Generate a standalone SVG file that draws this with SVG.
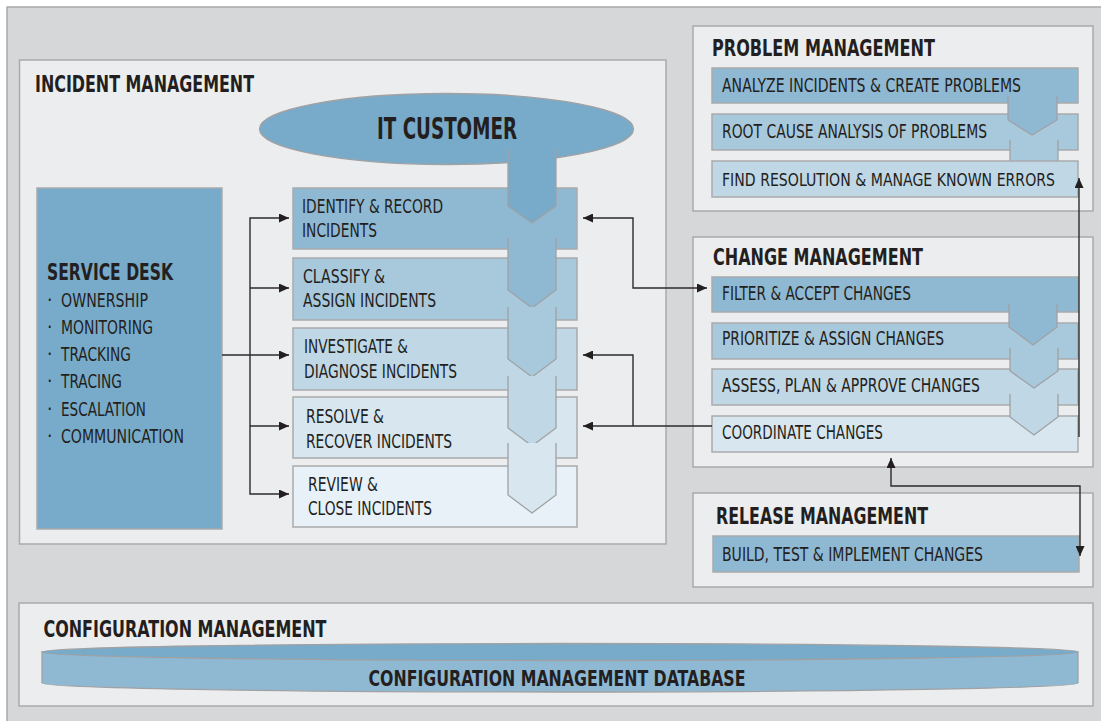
<svg xmlns="http://www.w3.org/2000/svg" width="1101" height="721" viewBox="0 0 1101 721">
<defs>
<style>
text{font-family:'Liberation Sans Narrow','DejaVu Sans Condensed','Liberation Sans',Arial,sans-serif;fill:#231f20}
.t{font-weight:bold;font-size:23px}
.s{font-size:19px}
.panel{fill:#ecedef;stroke:#a9aaac;stroke-width:1.5}
.bx{stroke:#a9aaac;stroke-width:1.5}
.ch{stroke:#a0a1a3;stroke-width:1.3}
.c0{fill:#78abc9}.c1{fill:#8fb8d3}.c2{fill:#a8c8dc}.c3{fill:#c0d7e6}.c4{fill:#d7e6ef}.c5{fill:#e9f1f8}
.ln{fill:none;stroke:#2b2b2b;stroke-width:1.4}
</style>
<marker id="ah" viewBox="0 0 10 9" refX="10" refY="4.5" markerWidth="10" markerHeight="9" markerUnits="userSpaceOnUse" orient="auto-start-reverse">
<path d="M0,0 L10,4.5 L0,9 z" fill="#231f20"/>
</marker>
</defs>
<rect x="7" y="7" width="1100" height="720" fill="#d6d7d9" stroke="#a9aaac" stroke-width="1.5"/>

<g id="incident-management">
<rect class="panel" x="19.5" y="60" width="646.5" height="484"/>
<text class="t" x="35" y="92" textLength="219" lengthAdjust="spacingAndGlyphs">INCIDENT MANAGEMENT</text>
</g>

<g id="it-customer">
<ellipse cx="446.5" cy="129" rx="187" ry="35.5" class="c0" stroke="#a0a1a3" stroke-width="1.3"/>
<text x="447" y="139" font-size="30" font-weight="bold" text-anchor="middle" textLength="140" lengthAdjust="spacingAndGlyphs">IT CUSTOMER</text>
</g>

<g id="service-desk">
<rect class="bx c0" x="37" y="188" width="185" height="341"/>
<text class="t" x="47" y="280" textLength="126" lengthAdjust="spacingAndGlyphs">SERVICE DESK</text>
<g class="s">
<text x="47" y="307">·</text><text x="61" y="307" textLength="87" lengthAdjust="spacingAndGlyphs">OWNERSHIP</text>
<text x="47" y="334">·</text><text x="61" y="334" textLength="92" lengthAdjust="spacingAndGlyphs">MONITORING</text>
<text x="47" y="361">·</text><text x="61" y="361" textLength="70" lengthAdjust="spacingAndGlyphs">TRACKING</text>
<text x="47" y="388">·</text><text x="61" y="388" textLength="61" lengthAdjust="spacingAndGlyphs">TRACING</text>
<text x="47" y="416">·</text><text x="61" y="416" textLength="85" lengthAdjust="spacingAndGlyphs">ESCALATION</text>
<text x="47" y="443">·</text><text x="61" y="443" textLength="123" lengthAdjust="spacingAndGlyphs">COMMUNICATION</text>
</g>
</g>

<g id="identify">
<rect class="bx c1" x="293" y="188" width="284" height="61"/>
<text class="s" x="302" y="213" textLength="141" lengthAdjust="spacingAndGlyphs">IDENTIFY &amp; RECORD</text>
<text class="s" x="302" y="237" textLength="75" lengthAdjust="spacingAndGlyphs">INCIDENTS</text>
</g>
<g id="classify">
<rect class="bx c2" x="293" y="258" width="284" height="62"/>
<text class="s" x="303" y="283" textLength="82" lengthAdjust="spacingAndGlyphs">CLASSIFY &amp;</text>
<text class="s" x="303" y="307" textLength="133" lengthAdjust="spacingAndGlyphs">ASSIGN INCIDENTS</text>
</g>
<g id="investigate">
<rect class="bx c3" x="293" y="328" width="284" height="62"/>
<text class="s" x="304" y="353" textLength="104" lengthAdjust="spacingAndGlyphs">INVESTIGATE &amp;</text>
<text class="s" x="304" y="378" textLength="153" lengthAdjust="spacingAndGlyphs">DIAGNOSE INCIDENTS</text>
</g>
<g id="resolve">
<rect class="bx c4" x="293" y="397" width="284" height="61"/>
<text class="s" x="306" y="423" textLength="78" lengthAdjust="spacingAndGlyphs">RESOLVE &amp;</text>
<text class="s" x="306" y="448" textLength="146" lengthAdjust="spacingAndGlyphs">RECOVER INCIDENTS</text>
</g>
<g id="review">
<rect class="bx c5" x="293" y="466" width="284" height="61"/>
<text class="s" x="308" y="491" textLength="70" lengthAdjust="spacingAndGlyphs">REVIEW &amp;</text>
<text class="s" x="308" y="515" textLength="124" lengthAdjust="spacingAndGlyphs">CLOSE INCIDENTS</text>
</g>

<g id="incident-chevrons">
<path class="ch c0" d="M508,150 L508,206 L532,223 L556,206 L556,150"/>
<path class="ch c1" d="M508,238 L508,290 L532,308 L556,290 L556,238"/>
<path class="ch c2" d="M508,307 L508,359 L532,377 L556,359 L556,307"/>
<path class="ch c3" d="M508,376 L508,428 L532,446 L556,428 L556,376"/>
<path class="ch c4" d="M508,443 L508,495 L532,513 L556,495 L556,443"/>
</g>

<g id="problem-management">
<rect class="panel" x="693" y="26" width="400" height="185"/>
<text class="t" x="712" y="56" textLength="223" lengthAdjust="spacingAndGlyphs">PROBLEM MANAGEMENT</text>
</g>
<g id="analyze">
<rect class="bx c1" x="712" y="68" width="366" height="35"/>
<text class="s" x="722" y="92" textLength="299" lengthAdjust="spacingAndGlyphs">ANALYZE INCIDENTS &amp; CREATE PROBLEMS</text>
</g>
<g id="root-cause">
<rect class="bx c2" x="712" y="114" width="366" height="36"/>
<text class="s" x="722" y="138" textLength="265" lengthAdjust="spacingAndGlyphs">ROOT CAUSE ANALYSIS OF PROBLEMS</text>
</g>
<g id="problem-chevrons">
<path class="ch c1" d="M1008,96 L1008,120 L1032,135 L1057,120 L1057,96"/>
<path class="ch c2" d="M1010,140 L1010,161 L1034,176 L1058,161 L1058,140"/>
</g>
<g id="find-resolution">
<rect class="bx c3" x="712" y="161" width="366" height="36"/>
<text x="722" y="186" font-size="17" textLength="333" lengthAdjust="spacingAndGlyphs">FIND RESOLUTION &amp; MANAGE KNOWN ERRORS</text>
</g>

<g id="change-management">
<rect class="panel" x="693" y="237" width="400" height="230"/>
<text class="t" x="713" y="265" textLength="210" lengthAdjust="spacingAndGlyphs">CHANGE MANAGEMENT</text>
</g>
<g id="filter">
<rect class="bx c1" x="712" y="277" width="366" height="35"/>
<text class="s" x="722" y="300" textLength="189" lengthAdjust="spacingAndGlyphs">FILTER &amp; ACCEPT CHANGES</text>
</g>
<g id="prioritize">
<rect class="bx c2" x="712" y="323" width="366" height="36"/>
<text class="s" x="722" y="345" textLength="222" lengthAdjust="spacingAndGlyphs">PRIORITIZE &amp; ASSIGN CHANGES</text>
</g>
<g id="assess">
<rect class="bx c3" x="712" y="369" width="366" height="36"/>
<text class="s" x="722" y="392" textLength="258" lengthAdjust="spacingAndGlyphs">ASSESS, PLAN &amp; APPROVE CHANGES</text>
</g>
<g id="coordinate">
<rect class="bx c4" x="712" y="416" width="366" height="36"/>
<text class="s" x="722" y="439" textLength="161" lengthAdjust="spacingAndGlyphs">COORDINATE CHANGES</text>
</g>
<g id="change-chevrons">
<path class="ch c1" d="M1009,304 L1009,327 L1033,345 L1057,327 L1057,304"/>
<path class="ch c2" d="M1010,348 L1010,371 L1034,388 L1058,371 L1058,348"/>
<path class="ch c3" d="M1010,394 L1010,417 L1034,435 L1058,417 L1058,394"/>
</g>

<g id="release-management">
<rect class="panel" x="693" y="493" width="400" height="94"/>
<text class="t" x="716" y="524" textLength="212" lengthAdjust="spacingAndGlyphs">RELEASE MANAGEMENT</text>
</g>
<g id="build">
<rect class="bx c1" x="713" y="536" width="366" height="36"/>
<text class="s" x="722" y="561" textLength="261" lengthAdjust="spacingAndGlyphs">BUILD, TEST &amp; IMPLEMENT CHANGES</text>
</g>

<g id="configuration-management">
<rect class="panel" x="19" y="603" width="1074" height="103"/>
<text class="t" x="43.5" y="637" textLength="283" lengthAdjust="spacingAndGlyphs">CONFIGURATION MANAGEMENT</text>
</g>
<g id="cmdb">
<path class="c1" d="M42,652 L42,683 A518,9 0 0 0 1078,683 L1078,652 Z" stroke="#a0a1a3" stroke-width="1.3"/>
<ellipse class="c0" cx="560" cy="652" rx="518" ry="8.5" stroke="#a0a1a3" stroke-width="1.3"/>
<text x="557" y="686" font-size="22" font-weight="bold" text-anchor="middle" textLength="377" lengthAdjust="spacingAndGlyphs">CONFIGURATION MANAGEMENT DATABASE</text>
</g>

<g id="connectors">
<path class="ln" d="M222,355 L289,355" marker-end="url(#ah)"/>
<path class="ln" d="M289,218 L250,218 L250,494 L289,494" marker-start="url(#ah)" marker-end="url(#ah)"/>
<path class="ln" d="M250,288 L289,288" marker-end="url(#ah)"/>
<path class="ln" d="M250,426 L289,426" marker-end="url(#ah)"/>
<path class="ln" d="M583,218 L633,218 L633,288 L707,288" marker-start="url(#ah)" marker-end="url(#ah)"/>
<path class="ln" d="M712,426 L583,426" marker-end="url(#ah)"/>
<path class="ln" d="M633,426 L633,355 L583,355" marker-end="url(#ah)"/>
<path class="ln" d="M1079,437 L1079,178" marker-end="url(#ah)"/>
<path class="ln" d="M891,458 L891,486 L1080,486 L1080,556" marker-start="url(#ah)" marker-end="url(#ah)"/>
</g>
</svg>
